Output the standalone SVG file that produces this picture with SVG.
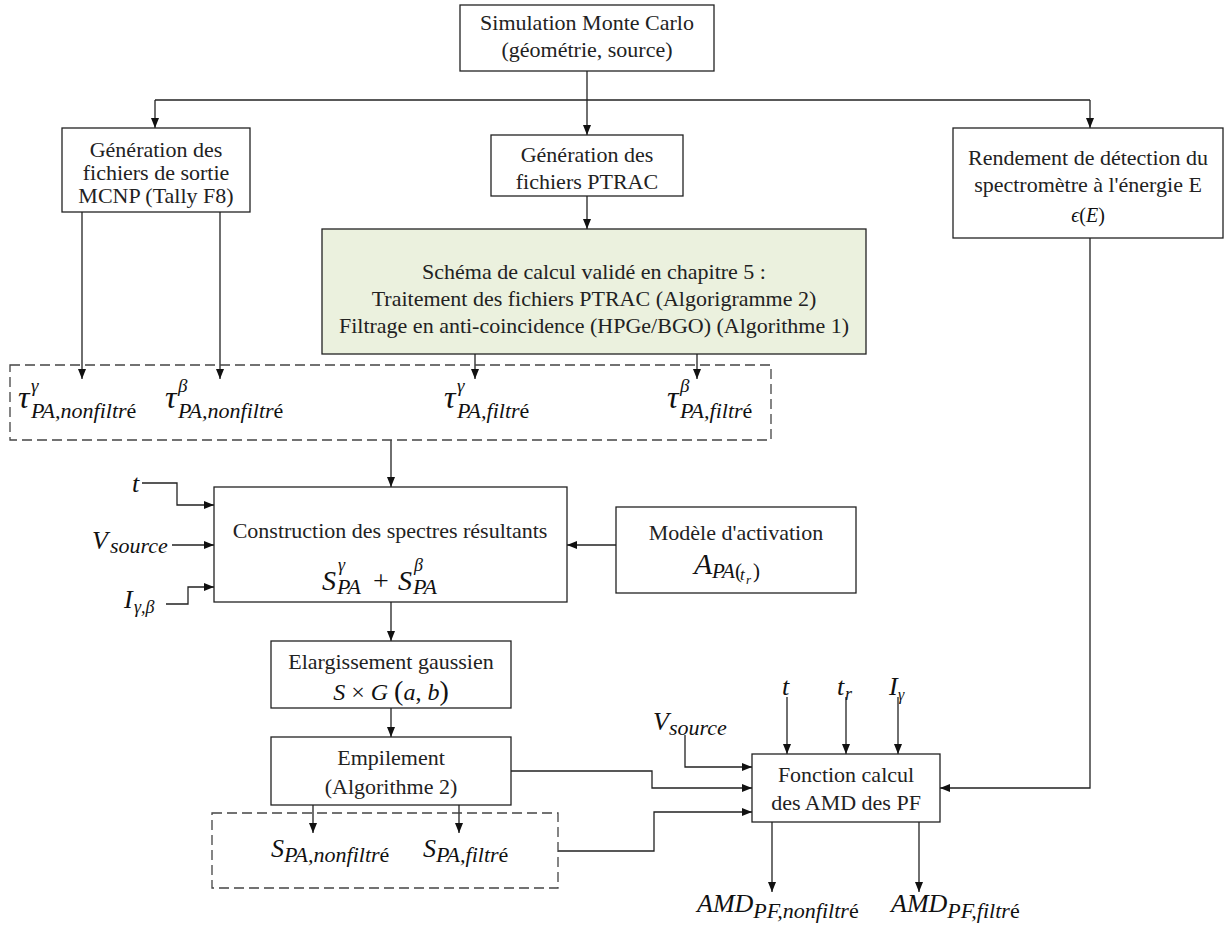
<svg xmlns="http://www.w3.org/2000/svg" width="1225" height="926" viewBox="0 0 1225 926">
<style>
.box{fill:#fff;stroke:#222;stroke-width:1.3}
.green{fill:#ebf1de}
.dash{fill:none;stroke:#444;stroke-width:1.3;stroke-dasharray:10 5}
.t{font-family:"Liberation Serif","Times New Roman",serif;font-size:22px;fill:#222;text-anchor:middle}
.m{font-family:"Liberation Serif","DejaVu Serif",serif;font-style:italic;fill:#111}
.n{font-style:normal}
.conn path{fill:none;stroke:#222;stroke-width:1.3;marker-end:url(#ah)}
.conn path.nm{marker-end:none}
</style>
<defs>
<marker id="ah" markerUnits="userSpaceOnUse" markerWidth="10" markerHeight="8" refX="10" refY="4" orient="auto">
<path d="M0,0 L10,4 L0,8 z" fill="#111"/>
</marker>
</defs>
<rect width="1225" height="926" fill="#fff"/>

<g class="conn">
<path d="M587,71 V135"/>
<path class="nm" d="M155,100 H1090"/>
<path d="M155,100 V128"/>
<path d="M1090,100 V128"/>
<path d="M587,196 V229"/>
<path d="M82,212 V379"/>
<path d="M220,212 V379"/>
<path d="M475,354 V379"/>
<path d="M697,354 V379"/>
<path d="M391,440 V487"/>
<path d="M142,483 H177 V505 H214"/>
<path d="M172,545 H214"/>
<path d="M166,604 H188 V587 H214"/>
<path d="M616,545 H567"/>
<path d="M391,602 V641"/>
<path d="M391,708 V737"/>
<path d="M313,805 V833"/>
<path d="M459,805 V833"/>
<path d="M511,771 H652 V788 H752"/>
<path d="M558,851 H654 V812 H752"/>
<path d="M685,735 V767 H752"/>
<path d="M787,697 V754"/>
<path d="M846,697 V754"/>
<path d="M898,697 V754"/>
<path d="M1090,238 V788 H940"/>
<path d="M772,822 V892"/>
<path d="M919,822 V892"/>
</g>

<g id="n-simulation">
<rect class="box" x="460" y="5" width="254" height="66"/>
<text class="t" x="587" y="30">Simulation Monte Carlo</text>
<text class="t" x="587" y="57">(géométrie, source)</text>
</g>

<g id="n-mcnp">
<rect class="box" x="62" y="128" width="188" height="84"/>
<text class="t" x="156" y="157">Génération des</text>
<text class="t" x="156" y="180">fichiers de sortie</text>
<text class="t" x="156" y="203">MCNP (Tally F8)</text>
</g>

<g id="n-ptrac">
<rect class="box" x="491" y="135" width="192" height="61"/>
<text class="t" x="587" y="162">Génération des</text>
<text class="t" x="587" y="189">fichiers PTRAC</text>
</g>

<g id="n-rendement">
<rect class="box" x="953" y="128" width="270" height="110"/>
<text class="t" x="1088" y="165">Rendement de détection du</text>
<text class="t" x="1088" y="192">spectromètre à l'énergie E</text>
<text class="m" x="1088" y="222" font-size="20" text-anchor="middle">ϵ<tspan class="n">(</tspan>E<tspan class="n">)</tspan></text>
</g>

<g id="n-schema">
<rect class="box green" x="322" y="229" width="544" height="125"/>
<text class="t" x="594" y="279">Schéma de calcul validé en chapitre 5 :</text>
<text class="t" x="594" y="306">Traitement des fichiers PTRAC (Algorigramme 2)</text>
<text class="t" x="594" y="333">Filtrage en anti-coincidence (HPGe/BGO) (Algorithme 1)</text>
</g>

<g id="n-taux">
<rect class="dash" x="10" y="365" width="761" height="75"/>
<text class="m" x="18" y="408" font-size="32">τ</text>
<text class="m" x="31" y="392" font-size="19">γ</text>
<text class="m" x="31" y="418" font-size="22">PA,nonfiltr<tspan class="n">é</tspan></text>
<text class="m" x="165" y="408" font-size="32">τ</text>
<text class="m" x="178" y="392" font-size="19">β</text>
<text class="m" x="178" y="418" font-size="22">PA,nonfiltr<tspan class="n">é</tspan></text>
<text class="m" x="444" y="408" font-size="32">τ</text>
<text class="m" x="457" y="392" font-size="19">γ</text>
<text class="m" x="457" y="418" font-size="22">PA,filtr<tspan class="n">é</tspan></text>
<text class="m" x="667" y="408" font-size="32">τ</text>
<text class="m" x="680" y="392" font-size="19">β</text>
<text class="m" x="680" y="418" font-size="22">PA,filtr<tspan class="n">é</tspan></text>
</g>

<g id="n-inputs-construction">
<text class="m" x="132" y="492" font-size="26">t</text>
<text class="m" x="92" y="549" font-size="26">V</text>
<text class="m" x="110" y="553" font-size="22">source</text>
<text class="m" x="124" y="608" font-size="26">I</text>
<text class="m" x="134" y="613" font-size="18">γ,β</text>
</g>

<g id="n-construction">
<rect class="box" x="214" y="487" width="353" height="115"/>
<text class="t" x="390" y="538">Construction des spectres résultants</text>
<text class="m" x="322" y="590" font-size="28">S</text>
<text class="m" x="338" y="571" font-size="18">γ</text>
<text class="m" x="337" y="594" font-size="22">PA</text>
<text class="m n" x="373" y="590" font-size="28">+</text>
<text class="m" x="398" y="590" font-size="28">S</text>
<text class="m" x="414" y="571" font-size="18">β</text>
<text class="m" x="413" y="594" font-size="22">PA</text>
</g>

<g id="n-modele">
<rect class="box" x="616" y="507" width="240" height="86"/>
<text class="t" x="736" y="540">Modèle d'activation</text>
<text class="m" x="694" y="574" font-size="30">A</text>
<text class="m" x="712" y="578" font-size="21">PA<tspan class="n">(</tspan></text>
<text class="m" x="740" y="580" font-size="17">t</text>
<text class="m" x="746" y="584" font-size="13">r</text>
<text class="m n" x="753" y="578" font-size="21">)</text>
</g>

<g id="n-elargissement">
<rect class="box" x="271" y="641" width="240" height="67"/>
<text class="t" x="391" y="669">Elargissement gaussien</text>
<text class="m" x="391" y="700" font-size="24" text-anchor="middle">S<tspan class="n"> × </tspan>G <tspan class="n" font-size="28">(</tspan>a<tspan class="n">, </tspan>b<tspan class="n" font-size="28">)</tspan></text>
</g>

<g id="n-empilement">
<rect class="box" x="271" y="737" width="240" height="68"/>
<text class="t" x="391" y="765">Empilement</text>
<text class="t" x="391" y="794">(Algorithme 2)</text>
</g>

<g id="n-spectres">
<rect class="dash" x="212" y="813" width="346" height="75"/>
<text class="m" x="271" y="857" font-size="26">S</text>
<text class="m" x="284" y="862" font-size="22">PA,nonfiltr<tspan class="n">é</tspan></text>
<text class="m" x="423" y="857" font-size="26">S</text>
<text class="m" x="436" y="862" font-size="22">PA,filtr<tspan class="n">é</tspan></text>
</g>

<g id="n-inputs-fonction">
<text class="m" x="653" y="730" font-size="26">V</text>
<text class="m" x="669" y="735" font-size="22">source</text>
<text class="m" x="782" y="695" font-size="26">t</text>
<text class="m" x="837" y="695" font-size="26">t</text>
<text class="m" x="845" y="700" font-size="18">r</text>
<text class="m" x="889" y="695" font-size="26">I</text>
<text class="m" x="898" y="700" font-size="16">γ</text>
</g>

<g id="n-fonction">
<rect class="box" x="752" y="754" width="188" height="68"/>
<text class="t" x="846" y="782">Fonction calcul</text>
<text class="t" x="846" y="810">des AMD des PF</text>
</g>

<g id="n-amd">
<text class="m" x="697" y="912" font-size="26">AMD<tspan font-size="22" dy="6">PF,nonfiltr</tspan><tspan class="n" font-size="22">é</tspan></text>
<text class="m" x="891" y="912" font-size="26">AMD<tspan font-size="22" dy="6">PF,filtr</tspan><tspan class="n" font-size="22">é</tspan></text>
</g>
</svg>
